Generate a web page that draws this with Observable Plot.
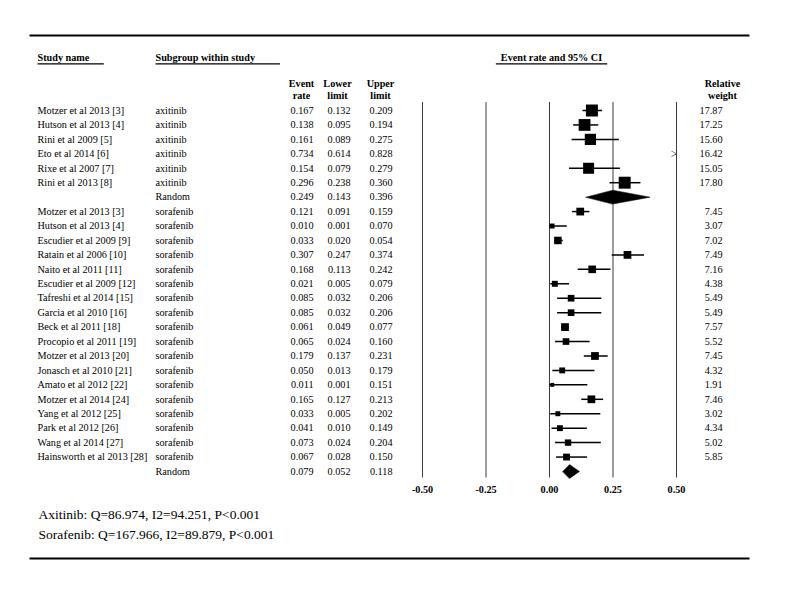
<!DOCTYPE html>
<html>
<head>
<meta charset="utf-8">
<script src="https://cdn.jsdelivr.net/npm/d3@7"></script>
<script src="https://cdn.jsdelivr.net/npm/@observablehq/plot@0.6"></script>
<style>
  body { margin: 0; background: #fff; }
  #chart svg { display: block; }
</style>
</head>
<body>
<div id="chart"></div>
<script>
// ---- Data ----
const axStudies = ["Motzer et al 2013 [3]", "Hutson et al 2013 [4]", "Rini et al 2009 [5]", "Eto et al 2014 [6]", "Rixe et al 2007 [7]", "Rini et al 2013 [8]"];
const axRate   = [0.167, 0.138, 0.161, 0.734, 0.154, 0.296];
const axLower  = [0.132, 0.095, 0.089, 0.614, 0.079, 0.238];
const axUpper  = [0.209, 0.194, 0.275, 0.828, 0.279, 0.360];
const axWeight = [17.87, 17.25, 15.60, 16.42, 15.05, 17.80];
const axRandom = [0.249, 0.143, 0.396]; // rate, lower, upper

const soStudies = ["Motzer et al 2013 [3]", "Hutson et al 2013 [4]", "Escudier et al 2009 [9]", "Ratain et al 2006 [10]", "Naito et al 2011 [11]", "Escudier et al 2009 [12]", "Tafreshi et al 2014 [15]", "Garcia et al 2010 [16]", "Beck et al 2011 [18]", "Procopio et al 2011 [19]", "Motzer et al 2013 [20]", "Jonasch et al 2010 [21]", "Amato et al 2012 [22]", "Motzer et al 2014 [24]", "Yang et al 2012 [25]", "Park et al 2012 [26]", "Wang et al 2014 [27]", "Hainsworth et al 2013 [28]"];
const soRate   = [0.121, 0.010, 0.033, 0.307, 0.168, 0.021, 0.085, 0.085, 0.061, 0.065, 0.179, 0.050, 0.011, 0.165, 0.033, 0.041, 0.073, 0.067];
const soLower  = [0.091, 0.001, 0.020, 0.247, 0.113, 0.005, 0.032, 0.032, 0.049, 0.024, 0.137, 0.013, 0.001, 0.127, 0.005, 0.010, 0.024, 0.028];
const soUpper  = [0.159, 0.070, 0.054, 0.374, 0.242, 0.079, 0.206, 0.206, 0.077, 0.160, 0.231, 0.179, 0.151, 0.213, 0.202, 0.149, 0.204, 0.150];
const soWeight = [7.45, 3.07, 7.02, 7.49, 7.16, 4.38, 5.49, 5.49, 7.57, 5.52, 7.45, 4.32, 1.91, 7.46, 3.02, 4.34, 5.02, 5.85];
const soRandom = [0.079, 0.052, 0.118];

const xTicks = [-0.50, -0.25, 0.00, 0.25, 0.50];
const statLines = ["Axitinib: Q=86.974, I2=94.251, P<0.001", "Sorafenib: Q=167.966, I2=89.879, P<0.001"];
const headerStudy = "Study name", headerSub = "Subgroup within study", headerCI = "Event rate and 95% CI";

// ---- Build table ----
const rows = [];
function addGroup(names, sub, rate, lower, upper, weight, random) {
  names.forEach((s, i) => rows.push({study: s, sub, rate: rate[i], lower: lower[i], upper: upper[i], weight: weight[i], kind: "study"}));
  rows.push({study: "", sub: "Random", rate: random[0], lower: random[1], upper: random[2], weight: null, kind: "random"});
}
addGroup(axStudies, "axitinib", axRate, axLower, axUpper, axWeight, axRandom);
addGroup(soStudies, "sorafenib", soRate, soLower, soUpper, soWeight, soRandom);
rows.forEach((r, i) => r.row = i);

const xMin = xTicks[0], xMax = xTicks[xTicks.length - 1];
const studies = rows.filter(r => r.kind === "study");
const inRange = studies.filter(r => r.lower <= xMax);
const outRange = studies.filter(r => r.lower > xMax);
const randoms = rows.filter(r => r.kind === "random");
const diamondHalf = 0.48;
const diamonds = randoms.flatMap(r => [
  {g: r.row, x: r.lower, y: r.row},
  {g: r.row, x: r.rate, y: r.row - diamondHalf},
  {g: r.row, x: r.upper, y: r.row},
  {g: r.row, x: r.rate, y: r.row + diamondHalf}
]);
const lastRow = rows.length - 1;

const fs = 10.2;
const hdr = (label, dx, dy, anchor) =>
  Plot.text([label], {frameAnchor: "top-left", dx, dy, text: d => d, textAnchor: anchor, lineAnchor: "middle", lineHeight: 1.18, fontWeight: "bold"});

const chart = Plot.plot({
  width: 787,
  height: 590,
  marginTop: 35,
  marginLeft: 30,
  marginRight: 39,
  marginBottom: 32,
  style: {fontFamily: "'Liberation Serif', 'Times New Roman', serif", fontSize: fs + "px", color: "black", background: "white"},
  x: {domain: [xMin, xMax], range: [422, 676], axis: null},
  y: {domain: [0, lastRow], range: [110, 471], axis: null},
  r: {type: "sqrt", domain: [0, 20], range: [0, 1.6 * Math.sqrt(20)]},
  marks: [
    Plot.frame({anchor: "top", strokeWidth: 2, stroke: "black"}),
    Plot.frame({anchor: "bottom", strokeWidth: 2, stroke: "black"}),
    // vertical reference lines
    Plot.ruleX(xTicks, {x: d => d, y1: -0.55, y2: lastRow + 0.45, stroke: "#3a3a3a", strokeWidth: 1}),
    // CI lines
    Plot.ruleY(inRange, {y: "row", x1: "lower", x2: d => Math.min(d.upper, xMax), stroke: "black", strokeWidth: 1.5}),
    // weighted squares
    Plot.dot(inRange, {x: "rate", y: "row", r: "weight", symbol: "square", fill: "black", stroke: "none"}),
    // out-of-range arrow
    Plot.text(outRange, {x: () => xMax, y: "row", text: () => ">", textAnchor: "end", fontSize: 12, dx: 1}),
    // summary diamonds
    Plot.line(diamonds, {x: "x", y: "y", z: "g", fill: "black", stroke: "black", strokeWidth: 0.5, curve: "linear-closed"}),
    // table columns
    Plot.text(rows, {frameAnchor: "left", y: "row", dx: 7, text: "study", textAnchor: "start"}),
    Plot.text(rows, {frameAnchor: "left", y: "row", dx: 125, text: "sub", textAnchor: "start"}),
    Plot.text(rows, {frameAnchor: "left", y: "row", dx: 283, text: d => d.rate.toFixed(3), textAnchor: "end"}),
    Plot.text(rows, {frameAnchor: "left", y: "row", dx: 320, text: d => d.lower.toFixed(3), textAnchor: "end"}),
    Plot.text(rows, {frameAnchor: "left", y: "row", dx: 362, text: d => d.upper.toFixed(3), textAnchor: "end"}),
    Plot.text(studies, {frameAnchor: "left", y: "row", dx: 692, text: d => d.weight.toFixed(2), textAnchor: "end"}),
    // headers (underlined afterwards)
    hdr(headerStudy, 7, 22, "start"),
    hdr(headerSub, 125, 22, "start"),
    hdr(headerCI, 521, 22, "middle"),
    // column headers
    hdr("Event\nrate", 271, 54, "middle"),
    hdr("Lower\nlimit", 307, 54, "middle"),
    hdr("Upper\nlimit", 350, 54, "middle"),
    hdr("Relative\nweight", 692, 54, "middle"),
    // x tick labels
    Plot.text(xTicks, {x: d => d, frameAnchor: "bottom", dy: -69, text: d => d.toFixed(2), textAnchor: "middle", lineAnchor: "middle", fontWeight: "bold"}),
    // footer statistics
    Plot.text([statLines.join("\n")], {frameAnchor: "bottom-left", dx: 8, dy: -36, text: d => d, textAnchor: "start", lineAnchor: "middle", lineHeight: 1.45, fontSize: 13.5})
  ]
});
document.getElementById("chart").appendChild(chart);

// underline decoration for the three header captions (extends past the text like the original)
const underlineExtra = new Map([[headerStudy, [0, 14]], [headerSub, [0, 25]], [headerCI, [5, 5]]]);
const svg = d3.select(chart);
const deco = svg.append("g").attr("class", "underlines");
svg.selectAll("text").each(function () {
  const ext = underlineExtra.get(this.textContent);
  if (!ext) return;
  const b = this.getBBox();
  const ctm = this.getCTM(), root = chart.getCTM ? chart.getCTM() : null;
  // bbox is in the text's local coords; convert to svg coords via its transform
  const pt = chart.createSVGPoint();
  pt.x = b.x; pt.y = b.y + b.height;
  const m = root ? root.inverse().multiply(ctm) : ctm;
  const p1 = pt.matrixTransform(m);
  pt.x = b.x + b.width;
  const p2 = pt.matrixTransform(m);
  deco.append("line")
    .attr("x1", p1.x - ext[0]).attr("x2", p2.x + ext[1])
    .attr("y1", p1.y + 0.5).attr("y2", p2.y + 0.5)
    .attr("stroke", "black").attr("stroke-width", 1.2);
});
</script>
</body>
</html>
